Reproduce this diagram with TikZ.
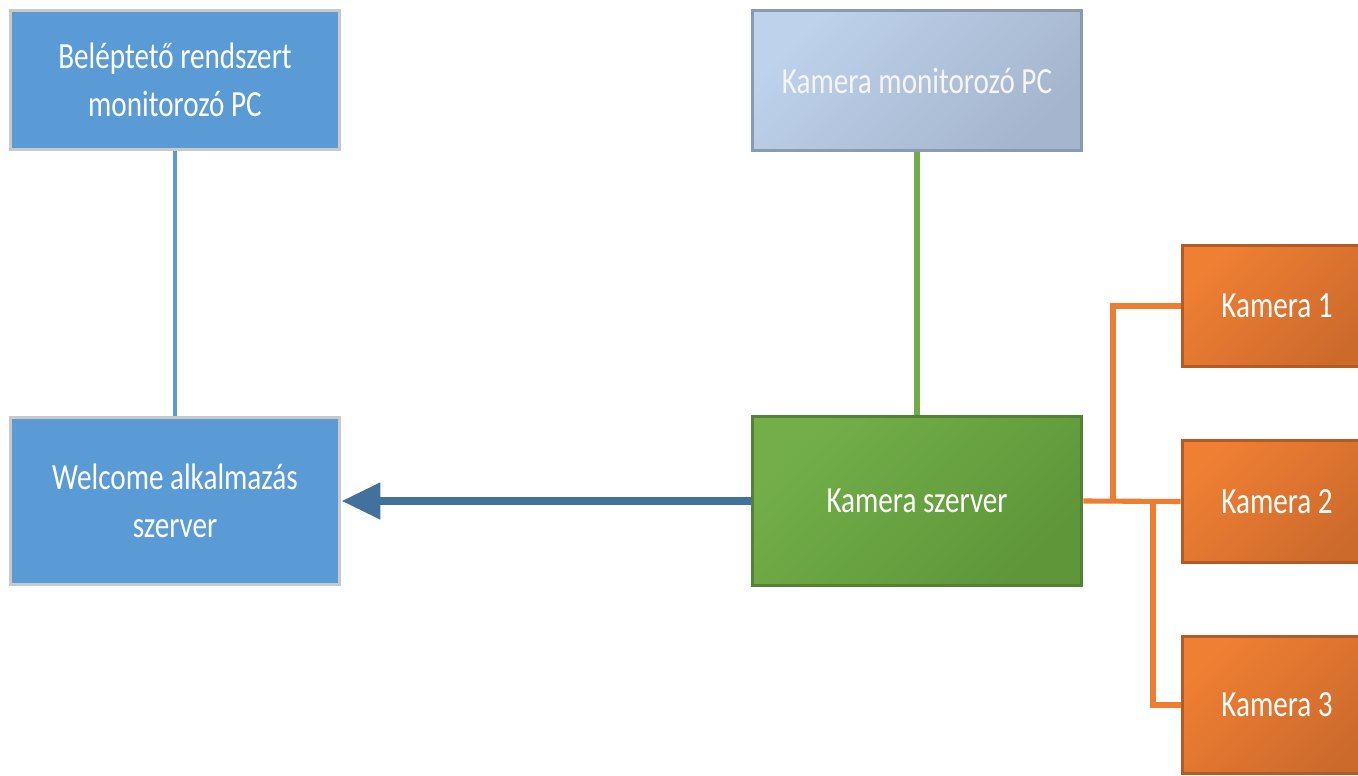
\documentclass[tikz,border=0pt]{standalone}
\usepackage{fontspec}
\setmainfont{Carlito}[FakeStretch=0.79]
\usetikzlibrary{arrows.meta,positioning}
\definecolor{bluefill}{HTML}{5B9BD5}
\definecolor{grayborder}{HTML}{C9C9C9}
\definecolor{pclight}{HTML}{BED2EB}
\definecolor{pcdark}{HTML}{A5B5CD}
\definecolor{pcborder}{HTML}{8A9AB0}
\definecolor{grlight}{HTML}{72AF49}
\definecolor{grdark}{HTML}{5E9639}
\definecolor{grborder}{HTML}{548235}
\definecolor{orlight}{HTML}{EF7F33}
\definecolor{ordark}{HTML}{CC6A2C}
\definecolor{orborder}{HTML}{B25B26}
\definecolor{orline}{HTML}{ED7D31}
\definecolor{arrowblue}{HTML}{41719C}
\definecolor{greenline}{HTML}{70AD47}
\tikzset{
  boxbase/.style={rectangle, inner sep=0pt, align=center, text=white,
    font=\fontsize{21}{27}\selectfont, line width=1.7pt},
  bluebox/.style={boxbase, fill=bluefill, draw=grayborder},
  pcbox/.style={boxbase, draw=pcborder, shading=axis, top color=pclight, bottom color=pcdark, shading angle=45, text=white!96!black},
  greenbox/.style={boxbase, draw=grborder, shading=axis, top color=grlight, bottom color=grdark, shading angle=45},
  orangebox/.style={boxbase, draw=orborder, shading=axis, top color=orlight, bottom color=ordark, shading angle=45},
  orconn/.style={draw=orline, line width=2.9pt, line join=miter},
}
\begin{document}
\begin{tikzpicture}[x=0.02cm,y=-0.02cm]
\useasboundingbox (0,0) rectangle (1358,776);
\clip (0,0) rectangle (1358,776);
\fill[white] (0,0) rectangle (1358,776);
% boxes
\node[bluebox, minimum width=6.6cm, minimum height=2.8cm] (bel) at (175,80) {Beléptető rendszert\\monitorozó PC};
\node[bluebox, minimum width=6.6cm, minimum height=3.36cm] (wel) at (175,501) {Welcome alkalmazás\\szerver};
\node[pcbox, minimum width=6.6cm, minimum height=2.82cm] (kmpc) at (917,80.5) {Kamera monitorozó PC};
\node[greenbox, minimum width=6.6cm, minimum height=3.4cm] (ksz) at (917,501) {Kamera szerver};
\node[orangebox, minimum width=3.8cm, minimum height=2.44cm] (k1) at (1277,306) {Kamera 1};
\node[orangebox, minimum width=3.8cm, minimum height=2.46cm] (k2) at (1277,501.5) {Kamera 2};
\node[orangebox, minimum width=3.8cm, minimum height=2.76cm] (k3) at (1277,705) {Kamera 3};
% connectors
\draw[draw=bluefill, line width=2.7pt] (bel.south) -- (wel.north);
\draw[draw=greenline, line width=3.2pt] (kmpc.south) -- (ksz.north);
\draw[draw=arrowblue, line width=4.6pt, -{Triangle[length=0.78cm,width=0.7cm]}] (ksz.west) -- (wel.east);
\coordinate (j1) at (1113,501.5);
\coordinate (j2) at (1153,501.5);
\draw[orconn] (ksz.east) -- (k2.west);
\draw[orconn] (j1) |- (k1.west);
\draw[orconn] (j2) |- (k3.west);
\end{tikzpicture}
\end{document}
